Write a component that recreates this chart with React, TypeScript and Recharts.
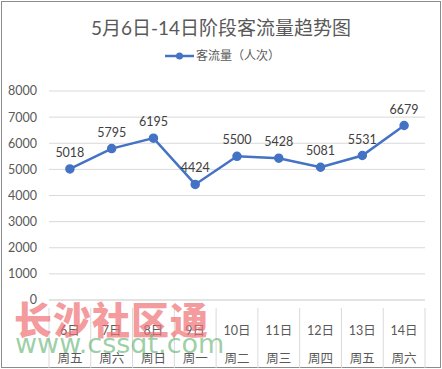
import { LineChart, Line, XAxis, YAxis, CartesianGrid, LabelList } from 'recharts';

const days = ['6日', '7日', '8日', '9日', '10日', '11日', '12日', '13日', '14日'];
const weekdays = ['周五', '周六', '周日', '周一', '周二', '周三', '周四', '周五', '周六'];
const visitors = [5018, 5795, 6195, 4424, 5500, 5428, 5081, 5531, 6679];
const yTicks = [0, 1000, 2000, 3000, 4000, 5000, 6000, 7000, 8000];

const data = days.map((d, i) => ({ day: d, week: weekdays[i], value: visitors[i] }));

const W = 442;
const H = 369;
const LEFT = 49;
const RIGHT = 17;
const BAND = (W - LEFT - RIGHT) / days.length;
const FONT = "Lato, 'Noto Sans CJK SC', sans-serif";
const BLUE = '#4472c4';

function DayTick(props: any) {
  const { x, y, payload, index } = props;
  const left = x - BAND / 2;
  return (
    <g>
      <line x1={left} y1={y} x2={left} y2={y + 60} stroke="#d9d9d9" />
      {index === days.length - 1 && (
        <line x1={left + BAND} y1={y} x2={left + BAND} y2={y + 60} stroke="#d9d9d9" />
      )}
      <text x={x} y={y + 27} textAnchor="middle" fill="#595959" fontSize={12.5} fontFamily={FONT}>
        {payload.value}
      </text>
      <text x={x} y={y + 55} textAnchor="middle" fill="#595959" fontSize={12.5} fontFamily={FONT}>
        {weekdays[index]}
      </text>
    </g>
  );
}

export default function App() {
  return (
    <div style={{ position: 'absolute', left: 0, top: 0, width: W, height: H, background: '#fff' }}>
      <div style={{ position: 'absolute', left: 1, top: 1, width: W - 4, height: H - 4, border: '1px solid #8c8c8c' }} />
      <div style={{ position: 'absolute', left: 0, top: 13, width: W, textAlign: 'center', fontFamily: FONT, fontSize: 19, color: '#595959' }}>
        5月6日-14日阶段客流量趋势图
      </div>
      <svg width={W} height={20} style={{ position: 'absolute', left: 0, top: 46 }}>
        <line x1={165} y1={10} x2={194} y2={10} stroke={BLUE} strokeWidth={2.5} />
        <circle cx={179.5} cy={10} r={3.5} fill={BLUE} />
        <text x={196} y={14} fill="#595959" fontSize={12} fontFamily={FONT}>客流量（人次）</text>
      </svg>
      <LineChart
        width={W}
        height={H}
        data={data}
        margin={{ top: 91, right: RIGHT, left: 0, bottom: 9 }}
        style={{ position: 'absolute', left: 0, top: 0 }}
      >
        <CartesianGrid vertical={false} stroke="#d9d9d9" />
        <XAxis
          dataKey="day"
          height={60}
          axisLine={{ stroke: '#d9d9d9' }}
          tickLine={false}
          tick={<DayTick />}
          interval={0}
          padding={{ left: BAND / 2, right: BAND / 2 }}
        />
        <YAxis
          width={LEFT}
          domain={[0, 8000]}
          ticks={yTicks}
          axisLine={false}
          tickLine={false}
          tickMargin={6}
          tick={{ fill: '#595959', fontSize: 12.5, fontFamily: FONT }}
        />
        <Line
          dataKey="value"
          stroke={BLUE}
          strokeWidth={2.5}
          dot={{ r: 3.5, fill: BLUE, stroke: BLUE }}
          isAnimationActive={false}
        >
          <LabelList dataKey="value" position="top" offset={12} fill="#404040" fontSize={12.5} fontFamily={FONT} />
        </Line>
      </LineChart>
      <div style={{ position: 'absolute', left: 14, top: 290, fontFamily: "'Noto Sans CJK SC', sans-serif", fontWeight: 900, fontSize: 38, color: 'rgba(240,110,115,0.7)', letterSpacing: 1, pointerEvents: 'none' }}>
        长沙社区通
      </div>
      <div style={{ position: 'absolute', left: 15, top: 328, fontFamily: "'DejaVu Sans', sans-serif", fontSize: 27, color: 'rgba(100,180,115,0.65)', pointerEvents: 'none' }}>
        www.cssqt.com
      </div>
    </div>
  );
}
